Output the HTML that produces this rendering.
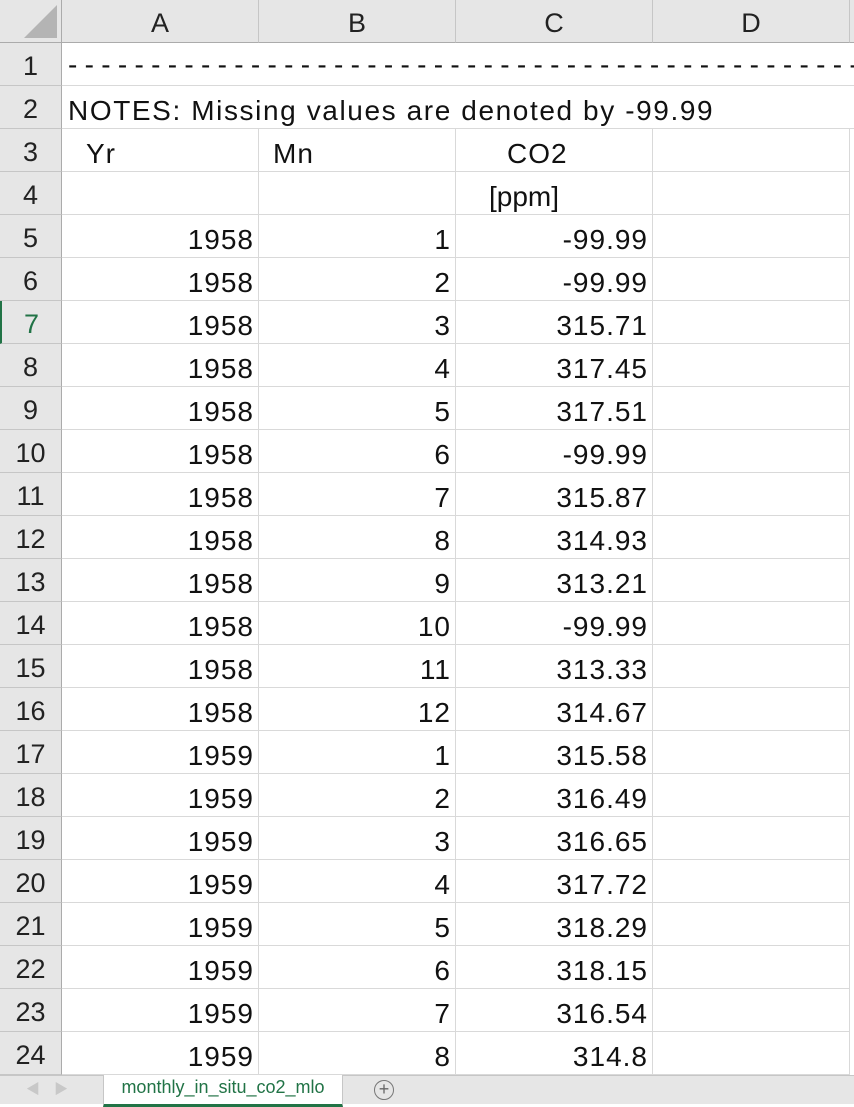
<!DOCTYPE html>
<html><head><meta charset="utf-8">
<style>
html,body{margin:0;padding:0;width:854px;height:1104px;overflow:hidden;background:#fff;font-family:"Liberation Sans","Noto Sans CJK SC",sans-serif;}
.abs{position:absolute;box-sizing:border-box;}
.colh{top:0;height:43px;background:#e6e6e6;border-right:1px solid #c6c6c6;border-bottom:1px solid #ababab;font-size:27px;line-height:46px;text-align:center;color:#222;}
.rowh{left:0;background:#e6e6e6;border-bottom:1px solid #c6c6c6;border-right:1px solid #ababab;font-size:27px;line-height:47px;text-align:center;color:#222;}
.cell{height:43px;border-right:1px solid #d9d9d9;border-bottom:1px solid #d9d9d9;font-size:28px;line-height:49px;color:#111;white-space:nowrap;overflow:visible;}
.num{text-align:right;padding-right:4px;letter-spacing:1px;}
</style></head><body>
<div id="sheet"></div>
<div class="abs" style="left:0;top:0;width:62px;height:43px;background:#e6e6e6;border-right:1px solid #ababab;border-bottom:1px solid #ababab;">
<svg width="62" height="43" style="position:absolute;left:0;top:0"><polygon points="57,5 57,38 24,38" fill="#b4b4b4"/></svg></div>
<div class="abs" style="left:0;top:1075px;width:854px;height:29px;background:#e6e6e6;border-top:1px solid #c6c6c6;">
<span style="position:absolute;left:26px;top:3px;color:#c8c8c8;font-size:14px;">&#9664;</span>
<span style="position:absolute;left:54px;top:3px;color:#c8c8c8;font-size:14px;">&#9654;</span>
<div style="position:absolute;left:103px;top:-1px;width:238px;height:29px;background:#fff;border-bottom:3px solid #217346;border-left:1px solid #c6c6c6;border-right:1px solid #c6c6c6;color:#217346;font-size:18px;line-height:24px;text-align:center;">monthly_in_situ_co2_mlo</div>
<div style="position:absolute;left:374px;top:4px;width:18px;height:18px;border:1.5px solid #777;border-radius:50%;color:#666;font-size:18px;line-height:17px;text-align:center;">+</div>
</div>
<script>
const yrs=[1958,1958,1958,1958,1958,1958,1958,1958,1958,1958,1958,1958,1959,1959,1959,1959,1959,1959,1959,1959];
const mns=[1,2,3,4,5,6,7,8,9,10,11,12,1,2,3,4,5,6,7,8];
const co2=["-99.99","-99.99","315.71","317.45","317.51","-99.99","315.87","314.93","313.21","-99.99","313.33","314.67","315.58","316.49","316.65","317.72","318.29","318.15","316.54","314.8"];
const sheet=document.getElementById('sheet');
const colX=[62,259,456,653,850];
const letters=['A','B','C','D'];
function div(cls,l,t,w,h,txt){const d=document.createElement('div');d.className='abs '+cls;d.style.left=l+'px';d.style.top=t+'px';d.style.width=w+'px';if(h)d.style.height=h+'px';if(txt!==undefined)d.textContent=txt;sheet.appendChild(d);return d;}
for(let i=0;i<4;i++){const d=div('colh',colX[i],0,colX[i+1]-colX[i],0,letters[i]);

}
const e=div('colh',850,0,10,0,'');


for(let r=1;r<=24;r++){const top=43+43*(r-1);
const rh=div('rowh',0,top,62,43,String(r));


if(r===7){rh.style.color='#217346';rh.style.borderLeft='2px solid #217346';}
if(r<=2){const c=div('cell',62,top,792,43,'');
c.style.borderRight='none';c.style.overflow='hidden';


if(r===1){c.textContent='-'.repeat(60);c.style.letterSpacing='7.3px';c.style.paddingLeft='6px';c.style.lineHeight='44px';}
else{c.textContent='NOTES: Missing values are denoted by -99.99';c.style.paddingLeft='6px';c.style.letterSpacing='1.6px';}
continue;}
for(let ci=0;ci<4;ci++){const c=div('cell',colX[ci],top,colX[ci+1]-colX[ci],43,'');


if(r===3){c.style.letterSpacing='1px';
if(ci===0){c.textContent='Yr';c.style.paddingLeft='24px';}
if(ci===1){c.textContent='Mn';c.style.paddingLeft='14px';}
if(ci===2){c.textContent='CO2';c.style.paddingLeft='51px';}}
else if(r===4){if(ci===2){c.textContent='[ppm]';c.style.paddingLeft='33px';}}
else{const k=r-5;c.classList.add('num');
if(ci===0)c.textContent=yrs[k];
if(ci===1)c.textContent=mns[k];
if(ci===2)c.textContent=co2[k];}}
}
</script>
</body></html>
